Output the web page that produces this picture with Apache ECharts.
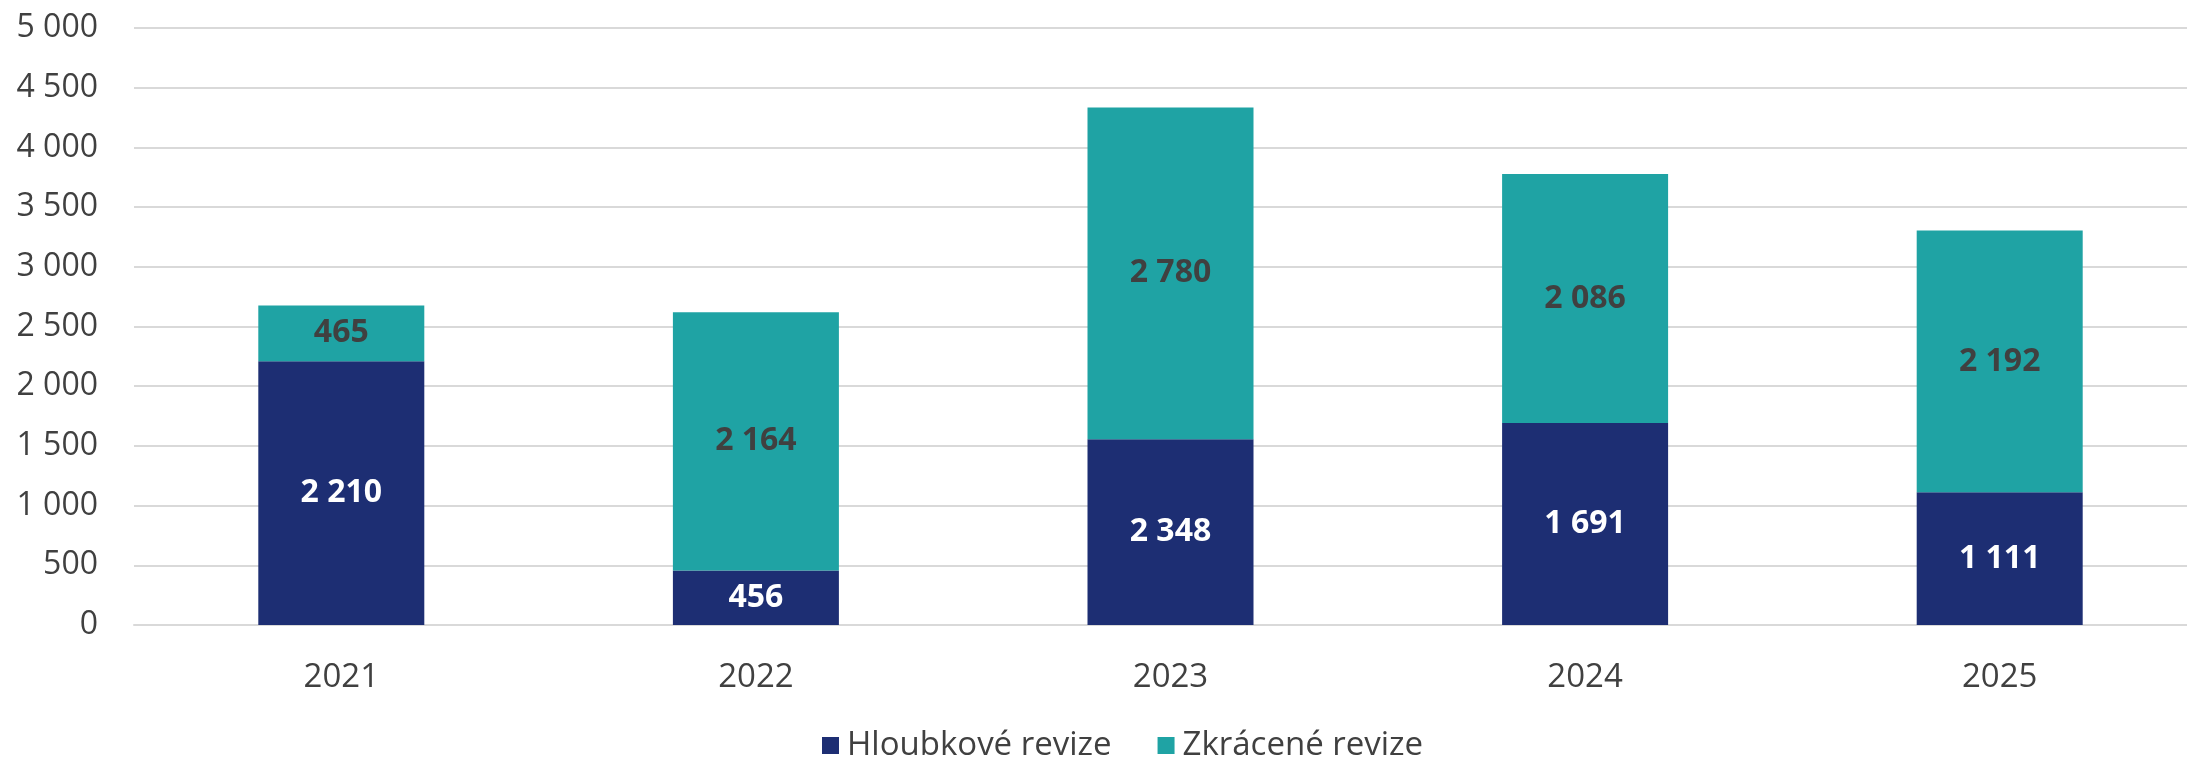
<!DOCTYPE html>
<html>
<head>
<meta charset="utf-8">
<script src="https://cdn.jsdelivr.net/npm/echarts@6/dist/echarts.min.js"></script>
<style>
  html, body { margin: 0; padding: 0; background: #fff; }
  #main { width: 2187px; height: 757px; }
</style>
</head>
<body>
<div id="main"></div>
<script>
// roky
var years = ['2021', '2022', '2023', '2024', '2025'];
// výška tmavých sloupců
var hloubkove = [2210, 456, 1555, 1691, 1111];
// popisky tmavých sloupců (v grafu u 2023 nesedí s výškou)
var hloubkoveLabels = [2210, 456, 2348, 1691, 1111];
var zkracene = [465, 2164, 2780, 2086, 2192];
var yTicks = [0, 500, 1000, 1500, 2000, 2500, 3000, 3500, 4000, 4500, 5000];

var fmt = function (n) {
    return String(n).replace(/\B(?=(\d{3})+(?!\d))/g, ' ');
};

var font = '"Open Sans", "Noto Sans", sans-serif';

// graf je v originale vpravo oříznutý -> grid přesahuje plátno
var myChart = echarts.init(document.getElementById('main'));
myChart.setOption({
    animation: false,
    textStyle: { fontFamily: font },
    grid: { left: 134, top: 28, width: 2073, height: 597, outerBoundsMode: 'none' },
    legend: {
        left: 817,
        top: 724,
        itemWidth: 17,
        itemHeight: 17,
        itemGap: 46,
        icon: 'rect',
        textStyle: { fontSize: 33, color: '#404040', fontFamily: font, padding: [0, 0, 0, 3] },
        data: ['Hloubkové revize', 'Zkrácené revize']
    },
    xAxis: {
        type: 'category',
        data: years,
        axisLine: { lineStyle: { color: '#d9d9d9', width: 2 } },
        axisTick: { show: false },
        axisLabel: { fontSize: 33, color: '#404040', margin: 36, fontFamily: font }
    },
    yAxis: {
        type: 'value',
        min: yTicks[0],
        max: yTicks[yTicks.length - 1],
        interval: 500,
        axisLine: { show: false },
        axisTick: { show: false },
        splitLine: { lineStyle: { color: '#d9d9d9', width: 2 } },
        axisLabel: {
            fontSize: 32, color: '#404040', margin: 36, fontFamily: font,
            formatter: function (v) { return fmt(v); }
        }
    },
    series: [
        {
            name: 'Hloubkové revize',
            type: 'bar',
            stack: 'a',
            barWidth: 166,
            itemStyle: { color: '#1d2e73' },
            label: {
                show: true,
                position: 'inside',
                color: '#ffffff',
                fontSize: 32,
                fontWeight: 'bold',
                fontFamily: font,
                formatter: function (p) { return fmt(hloubkoveLabels[p.dataIndex]); }
            },
            data: hloubkove
        },
        {
            name: 'Zkrácené revize',
            type: 'bar',
            stack: 'a',
            barWidth: 166,
            itemStyle: { color: '#1fa3a4' },
            label: {
                show: true,
                position: 'inside',
                color: '#404040',
                fontSize: 32,
                fontWeight: 'bold',
                fontFamily: font,
                formatter: function (p) { return fmt(p.value); }
            },
            data: zkracene
        }
    ]
});
</script>
</body>
</html>
